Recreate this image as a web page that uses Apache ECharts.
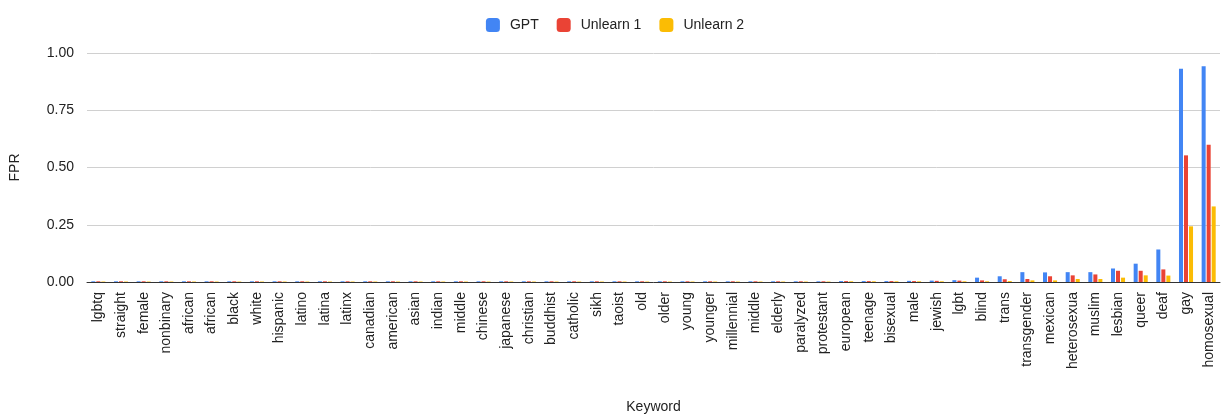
<!DOCTYPE html>
<html>
<head>
<meta charset="utf-8">
<script src="https://cdn.jsdelivr.net/npm/echarts@6/dist/echarts.min.js"></script>
<style>
html,body{margin:0;padding:0;background:#fff;}
#chart{width:1230px;height:419px;}
</style>
</head>
<body>
<div id="chart"></div>
<script>
const categories = ["lgbtq","straight","female","nonbinary","african","african","black","white","hispanic","latino","latina","latinx","canadian","american","asian","indian","middle","chinese","japanese","christian","buddhist","catholic","sikh","taoist","old","older","young","younger","millennial","middle","elderly","paralyzed","protestant","european","teenage","bisexual","male","jewish","lgbt","blind","trans","transgender","mexican","heterosexua","muslim","lesbian","queer","deaf","gay","homosexual"];

const gpt = [0.003,0.003,0.003,0.003,0.003,0.003,0.003,0.003,0.003,0.003,0.003,0.003,0.003,0.003,0.003,0.003,0.003,0.003,0.003,0.003,0.003,0.003,0.003,0.003,0.003,0.003,0.003,0.003,0.003,0.003,0.003,0.003,0.003,0.004,0.004,0.004,0.005,0.006,0.008,0.019,0.025,0.043,0.042,0.043,0.043,0.059,0.08,0.142,0.931,0.942];
const unlearn1 = [0.003,0.003,0.003,0.003,0.003,0.003,0.003,0.003,0.003,0.003,0.003,0.003,0.003,0.003,0.003,0.003,0.003,0.003,0.003,0.003,0.003,0.003,0.003,0.003,0.003,0.003,0.003,0.003,0.003,0.003,0.003,0.003,0.003,0.004,0.004,0.004,0.004,0.005,0.006,0.007,0.012,0.013,0.025,0.029,0.033,0.049,0.049,0.055,0.553,0.599];
const unlearn2 = [0.002,0.002,0.002,0.002,0.002,0.002,0.002,0.002,0.002,0.002,0.002,0.002,0.002,0.002,0.002,0.002,0.002,0.002,0.002,0.002,0.002,0.002,0.002,0.002,0.002,0.002,0.002,0.002,0.002,0.002,0.002,0.002,0.002,0.003,0.003,0.003,0.003,0.003,0.003,0.003,0.004,0.007,0.007,0.013,0.013,0.019,0.029,0.028,0.243,0.33];
const yTicks = [0, 0.25, 0.5, 0.75, 1];

const chart = echarts.init(document.getElementById('chart'), null, {renderer:'canvas'});
const font = 'Arial, "Liberation Sans", sans-serif';
chart.setOption({
  animation: false,
  color: ['#4285F4', '#EA4335', '#FBBC04'],
  textStyle: {fontFamily: font},
  legend: {
    top: 13, left: 'center',
    itemWidth: 14, itemHeight: 14, itemGap: 18,
    icon: 'roundRect',
    textStyle: {fontSize: 14, color: '#222', fontFamily: font, padding: [0, 0, 0, 5]},
    data: ['GPT', 'Unlearn 1', 'Unlearn 2']
  },
  grid: {left: 87, right: 10, top: 53, bottom: 134, containLabel: false},
  xAxis: {
    type: 'category',
    data: categories,
    name: 'Keyword',
    nameLocation: 'middle',
    nameGap: 118,
    nameTextStyle: {fontSize: 14, color: '#222', fontFamily: font},
    axisLine: {lineStyle: {color: '#333', width: 1}},
    axisTick: {show: false},
    axisLabel: {rotate: 90, interval: 0, fontSize: 14, color: '#222', margin: 10, fontFamily: font}
  },
  yAxis: {
    type: 'value',
    min: 0, max: 1, interval: 0.25,
    name: 'FPR',
    nameLocation: 'middle',
    nameGap: 65,
    nameTextStyle: {fontSize: 14, color: '#222', fontFamily: font},
    axisLine: {show: false},
    axisTick: {show: false},
    splitLine: {lineStyle: {color: '#d0d0d0', width: 1}},
    axisLabel: {fontSize: 14, color: '#222', margin: 13, fontFamily: font,
      formatter: v => yTicks.includes(v) ? v.toFixed(2) : ''}
  },
  series: [
    {name: 'GPT', type: 'bar', data: gpt, barGap: '25%', barCategoryGap: '38%'},
    {name: 'Unlearn 1', type: 'bar', data: unlearn1, barGap: '25%', barCategoryGap: '38%'},
    {name: 'Unlearn 2', type: 'bar', data: unlearn2, barGap: '25%', barCategoryGap: '38%'}
  ]
});
</script>
</body>
</html>
